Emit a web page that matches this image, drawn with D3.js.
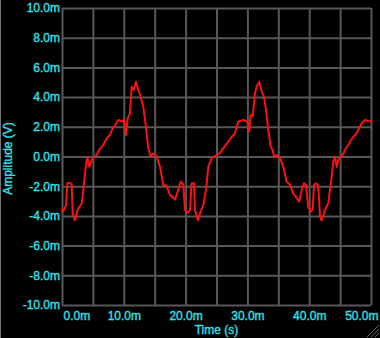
<!DOCTYPE html>
<html>
<head>
<meta charset="utf-8">
<script src="https://cdn.jsdelivr.net/npm/d3@7"></script>
<style>
  html, body { margin: 0; padding: 0; background: #000; }
  #chart { width: 380px; height: 338px; }
  .grid line, .grid path { stroke: #585858; stroke-width: 2; }
  .grid text { display: none; }
  .axis path, .axis line { display: none; }
  .axis text, .axis-title {
    fill: #34e0ea; stroke: #34e0ea; stroke-width: 0.35px;
    font-family: "Liberation Sans", Arial, sans-serif; font-size: 12px;
  }
  .trace { fill: none; stroke: #ff1010; stroke-width: 2; stroke-linejoin: round; }
</style>
</head>
<body>
<div id="chart"></div>
<script>
// time in ms, amplitude in mV
let timeMs = [
  0.0, 0.21, 0.65, 0.86, 1.29, 1.57, 1.73, 2.10, 2.38, 2.64, 3.19, 3.45, 3.88, 4.09,
  4.42, 4.81, 5.2, 5.61, 6.1, 6.68, 7.2, 7.77, 8.2, 8.58, 9.11, 9.66, 10.03, 10.36, 10.63, 11.0, 11.28,
  11.65, 11.97, 12.35, 12.73, 13.15, 13.59, 13.96, 14.35, 14.68, 15.32, 15.86, 16.39,
  16.94, 17.48, 18.28, 18.82, 19.21, 19.63, 19.90, 20.27, 20.71, 20.98, 21.36, 21.52,
  21.79, 22.05, 22.33, 22.86, 23.30, 23.67, 24.22, 25.03, 25.6, 26.10, 26.91, 27.5, 27.99, 28.53,
  29.34, 29.98, 30.31, 30.53, 30.86, 31.23, 31.50, 31.92, 32.31, 32.69, 33.01, 33.38,
  33.77, 34.09, 34.30, 34.74, 35.28, 35.81, 36.36, 36.89, 37.43, 37.98, 38.40, 38.78,
  39.16, 39.48, 39.85, 40.24, 40.56, 40.78, 41.21, 41.47, 41.75, 42.02, 42.56, 43.09,
  43.64, 43.90, 44.17, 44.45, 44.71, 45.52, 45.9, 46.32, 47.13, 47.6, 47.94, 48.49, 49.03, 49.84, 50.0
];
let ampMv = [
  -3.5, -3.7, -3.3, -1.8, -1.76, -1.9, -3.8, -4.3, -3.8, -3.5, -3.15, -2.25, -0.57, -0.05,
  -0.7, -0.24, 0.0, 0.1, 0.5, 0.77, 1.2, 1.45, 1.9, 2.1, 2.46, 2.35, 2.46, 1.45, 2.57, 2.9, 4.7,
  4.48, 5.04, 4.48, 4.03, 3.35, 2.0, 0.55, 0.0, 0.2, 0.0, -0.7, -1.9,
  -2.0, -2.6, -2.9, -2.25, -1.7, -1.9, -3.6, -3.8, -3.6, -1.8, -1.8, -3.6,
  -4.05, -4.3, -3.8, -3.3, -2.25, -0.7, -0.1, 0.1, 0.25, 0.55, 1.0, 1.35, 1.56, 2.35,
  2.46, 2.35, 1.67, 2.8, 2.7, 4.26, 4.7, 5.04, 4.37, 4.03, 3.13, 1.78,
  0.66, 0.44, 0.0, 0.1, -0.1, -0.7, -1.7, -1.9, -2.5, -2.8, -3.05, -2.25,
  -1.8, -1.9, -3.4, -3.7, -3.6, -1.9, -1.8, -2.0, -4.05, -4.3, -3.6, -3.15,
  -1.36, -0.35, 0.0, -0.7, -0.24, 0.2, 0.5, 0.77, 1.33, 1.5, 1.78, 2.24, 2.46, 2.35, 2.4
];

let xTicks = [0, 10, 20, 30, 40, 50];
let xGridTicks = [0, 5, 10, 15, 20, 25, 30, 35, 40, 45, 50];
let yTicks = [-10, -8, -6, -4, -2, 0, 2, 4, 6, 8, 10];
let xTitle = "Time (s)";
let yTitle = "Amplitude (V)";

let margin = { top: 8, right: 9, bottom: 33, left: 62 },
  width = 380 - margin.left - margin.right,
  height = 338 - margin.top - margin.bottom;

let svg = d3
  .select("#chart")
  .append("svg")
  .attr("width", 380)
  .attr("height", 338);

svg.append("rect").attr("width", 380).attr("height", 338).attr("fill", "#000");

// window edge on the left
svg.append("line")
  .attr("x1", 0.5).attr("x2", 0.5).attr("y1", 0).attr("y2", 338)
  .attr("stroke", "#777").attr("stroke-width", 1);

let canvas = svg
  .append("g")
  .attr("transform", "translate(" + margin.left + "," + margin.top + ")");

let xScale = d3.scaleLinear().domain([0, 50]).range([0, width]);
let yScale = d3.scaleLinear().domain([-10, 10]).range([height, 0]);

let fmt = (d) => d.toFixed(1) + "m";

// grid
canvas.append("g")
  .attr("class", "grid")
  .attr("transform", "translate(0," + height + ")")
  .call(d3.axisBottom(xScale).tickValues(xGridTicks).tickSize(-height).tickFormat("").tickSizeOuter(0));

canvas.append("g")
  .attr("class", "grid")
  .call(d3.axisLeft(yScale).tickValues(yTicks).tickSize(-width).tickFormat("").tickSizeOuter(0));

canvas.selectAll(".grid .domain").remove();

// axes labels
let xAxisEl = canvas.append("g")
  .attr("class", "axis")
  .attr("transform", "translate(0," + height + ")")
  .call(d3.axisBottom(xScale).tickValues(xTicks).tickFormat(fmt).tickSize(0).tickPadding(6));

xAxisEl.selectAll("text")
  .style("text-anchor", (d, i) => (i === 0 ? "start" : i === xTicks.length - 1 ? "end" : "middle"))
  .attr("x", (d, i) => (i === 0 ? 1 : i === xTicks.length - 1 ? 7 : 0));

canvas.append("g")
  .attr("class", "axis")
  .call(d3.axisLeft(yScale).tickValues(yTicks).tickFormat(fmt).tickSize(0).tickPadding(2));

canvas.selectAll(".axis").attr("fill", null).attr("font-family", null).attr("font-size", null);

// trace
let data = timeMs.map((t, i) => ({ t: t, v: ampMv[i] }));

let line = d3.line()
  .x((d) => xScale(d.t))
  .y((d) => yScale(d.v));

canvas.append("path").datum(data).attr("class", "trace").attr("d", line);

// titles
svg.append("text")
  .attr("class", "axis-title")
  .attr("text-anchor", "middle")
  .attr("x", margin.left + width / 2)
  .attr("y", 334)
  .text(xTitle);

svg.append("text")
  .attr("class", "axis-title")
  .attr("text-anchor", "middle")
  .attr("transform", "translate(12," + (margin.top + height / 2 + 2) + ") rotate(-90)")
  .text(yTitle);

// resize grip
[4, 8, 12].forEach((k) => {
  svg.append("line")
    .attr("x1", 379 - k).attr("y1", 337)
    .attr("x2", 379).attr("y2", 337 - k)
    .attr("stroke", "#666").attr("stroke-width", 1);
});
</script>
</body>
</html>
